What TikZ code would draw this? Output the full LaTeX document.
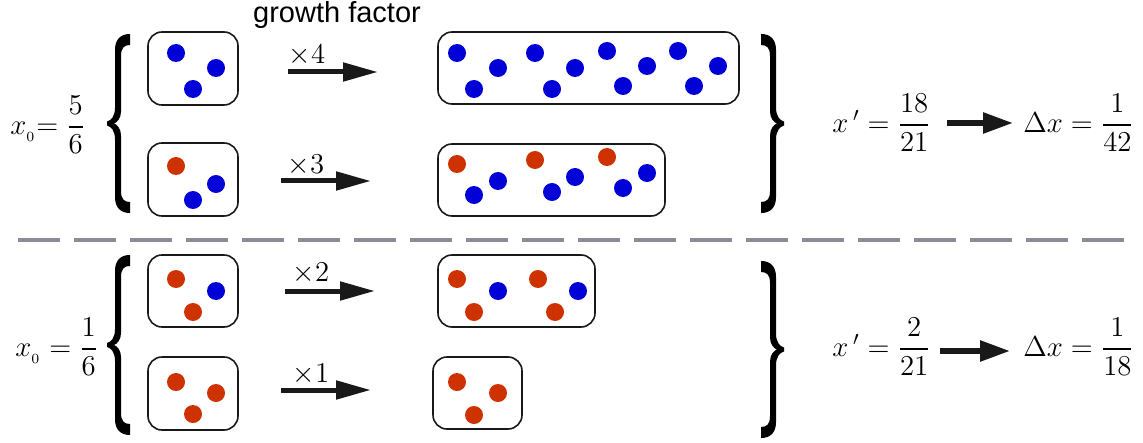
\documentclass[tikz,border=0pt]{standalone}
\usepackage{amsmath}
\usepackage{fontspec}
\newfontfamily\sansf{Liberation Sans}
\usetikzlibrary{arrows.meta}
\definecolor{dotblue}{RGB}{0,0,215}
\definecolor{dotred}{RGB}{205,50,0}
\definecolor{dashgray}{RGB}{142,139,150}
\definecolor{ink}{RGB}{25,25,25}
% filled curly brace outline, tip at x=0, top at y=0, height #1 (px units)
\newcommand{\bracepath}[1]{%
 (23,0) .. controls (14,0) and (8,5) .. (8,16) -- (8,{#1/2-16})
 .. controls (8,{#1/2-7}) and (4,{#1/2-3}) .. (0,{#1/2-2}) -- (0,{#1/2+2})
 .. controls (4,{#1/2+3}) and (8,{#1/2+7}) .. (8,{#1/2+16}) -- (8,{#1-16})
 .. controls (8,{#1-5}) and (14,#1) .. (23,#1) -- (23,{#1-11})
 .. controls (17,{#1-11}) and (14,{#1-14}) .. (14,{#1-22}) -- (14,{#1/2+12})
 .. controls (14,{#1/2+5}) and (10,{#1/2+1}) .. (7,{#1/2})
 .. controls (10,{#1/2-1}) and (14,{#1/2-5}) .. (14,{#1/2-12}) -- (14,22)
 .. controls (14,14) and (17,11) .. (23,11) -- cycle}
\begin{document}
\begin{tikzpicture}[x=0.5pt,y=-0.5pt,
  font=\fontsize{13.8}{16}\selectfont,
  box/.style={draw=ink, line width=0.8pt, rounded corners=7pt, inner sep=0pt},
  bdot/.style={fill=dotblue},
  rdot/.style={fill=dotred},
  bigarrow/.style={draw=ink, line width=2.5pt, -{Triangle[length=17.5pt,width=9pt]}},
  eqarrow/.style={draw=ink, line width=2.8pt, -{Triangle[length=15pt,width=10pt]}},
  lbl/.style={inner sep=0pt},
  bracefill/.style={fill=black}]
\useasboundingbox (0,0) rectangle (1143,443);

% title
\node[lbl] (gf) at (337,15.5) {\sansf\fontsize{14.5}{17}\selectfont growth factor};

% boxes
\node[box, minimum width=45pt, minimum height=36.5pt] (b1) at (193,68.5) {};
\node[box, minimum width=45pt, minimum height=36.5pt] (b2) at (193,179.5) {};
\node[box, minimum width=45pt, minimum height=36pt] (b3) at (193,291) {};
\node[box, minimum width=45pt, minimum height=36.5pt] (b4) at (193,393.5) {};
\node[box, minimum width=150.5pt, minimum height=36pt] (r1) at (588.5,68) {};
\node[box, minimum width=113.5pt, minimum height=36pt] (r2) at (551.5,180) {};
\node[box, minimum width=78.5pt, minimum height=36pt] (r3) at (516.5,291) {};
\node[box, minimum width=44.5pt, minimum height=36pt] (r4) at (477.5,393) {};

% dots
\def\R{9}
% b1
\fill[bdot] (176,53) circle (\R); \fill[bdot] (216,68) circle (\R); \fill[bdot] (193,89) circle (\R);
% b2
\fill[rdot] (176,166) circle (\R); \fill[bdot] (216,184) circle (\R); \fill[bdot] (193,200) circle (\R);
% b3
\fill[rdot] (176,279) circle (\R); \fill[bdot] (216,291) circle (\R); \fill[rdot] (193,312) circle (\R);
% b4
\fill[rdot] (176,382) circle (\R); \fill[rdot] (216,393) circle (\R); \fill[rdot] (193,414) circle (\R);
% r1
\fill[bdot] (457,53) circle (\R); \fill[bdot] (498,68) circle (\R); \fill[bdot] (474,89) circle (\R);
\fill[bdot] (535,53) circle (\R); \fill[bdot] (575,68) circle (\R); \fill[bdot] (552,89) circle (\R);
\fill[bdot] (607,51) circle (\R); \fill[bdot] (647,66) circle (\R); \fill[bdot] (623,86) circle (\R);
\fill[bdot] (678,51) circle (\R); \fill[bdot] (718,66) circle (\R); \fill[bdot] (694,86) circle (\R);
% r2
\fill[rdot] (457,164) circle (\R); \fill[bdot] (498,181) circle (\R); \fill[bdot] (474,195) circle (\R);
\fill[rdot] (535,160) circle (\R); \fill[bdot] (575,177) circle (\R); \fill[bdot] (552,192) circle (\R);
\fill[rdot] (607,157) circle (\R); \fill[bdot] (647,173) circle (\R); \fill[bdot] (623,188) circle (\R);
% r3
\fill[rdot] (457,279) circle (\R); \fill[bdot] (498,291) circle (\R); \fill[rdot] (474,312) circle (\R);
\fill[rdot] (538,279) circle (\R); \fill[bdot] (578,291) circle (\R); \fill[rdot] (555,312) circle (\R);
% r4
\fill[rdot] (457,382) circle (\R); \fill[rdot] (498,393) circle (\R); \fill[rdot] (474,415) circle (\R);

% growth arrows
\coordinate (a1s) at (288,72);  \coordinate (a1e) at (378,72);
\coordinate (a2s) at (281,181); \coordinate (a2e) at (371,181);
\coordinate (a3s) at (285,291); \coordinate (a3e) at (375,291);
\coordinate (a4s) at (281,390); \coordinate (a4e) at (371,390);
\draw[bigarrow] (a1s) -- (a1e);
\draw[bigarrow] (a2s) -- (a2e);
\draw[bigarrow] (a3s) -- (a3e);
\draw[bigarrow] (a4s) -- (a4e);
\node[lbl] (m1) at (307,55) {$\times 4$};
\node[lbl] (m2) at (306,165) {$\times 3$};
\node[lbl] (m3) at (311,273) {$\times 2$};
\node[lbl] (m4) at (311,374) {$\times 1$};

% braces
\begin{scope}[shift={(107,34)}]
  \fill[bracefill] \bracepath{179};
\end{scope}
\begin{scope}[shift={(107,255)}]
  \fill[bracefill] \bracepath{180};
\end{scope}
\begin{scope}[shift={(784,34)}, xscale=-1]
  \fill[bracefill] \bracepath{179};
\end{scope}
\begin{scope}[shift={(784,261)}, xscale=-1]
  \fill[bracefill] \bracepath{177};
\end{scope}

% left equations
\node[lbl, anchor=west] (x1) at (10,125) {$x_{_0}{=}\;\dfrac{5}{6}$};
\node[lbl, anchor=west] (x2) at (15,347) {$x_{_0} = \dfrac{1}{6}$};

% right equations
\node[lbl, anchor=west] (xp1) at (832,123) {$x\,{}^{\prime} = \dfrac{18}{21}$};
\node[lbl, anchor=west] (dx1) at (1023,123) {$\Delta x = \dfrac{1}{42}$};
\node[lbl, anchor=west] (xp2) at (832,347) {$x\,{}^{\prime} = \dfrac{2}{21}$};
\node[lbl, anchor=west] (dx2) at (1023,347) {$\Delta x = \dfrac{1}{18}$};
\coordinate (e1s) at (947,123); \coordinate (e1e) at (1013,123);
\coordinate (e2s) at (940,351); \coordinate (e2e) at (1010,351);
\draw[eqarrow] (e1s) -- (e1e);
\draw[eqarrow] (e2s) -- (e2e);

% separator
\coordinate (sepL) at (18,240); \coordinate (sepR) at (1124,240);
\draw[dashgray, line width=2pt, dash pattern=on 21pt off 7pt] (sepL) -- (sepR);
\end{tikzpicture}
\end{document}
